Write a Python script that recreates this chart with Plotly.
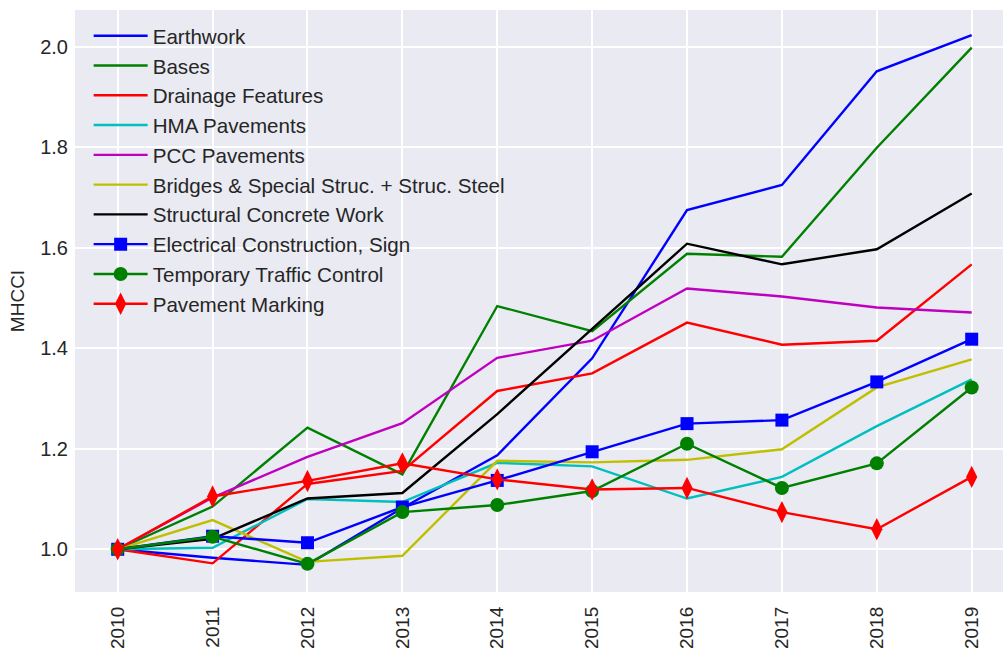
import plotly.graph_objects as go

years = [2010, 2011, 2012, 2013, 2014, 2015, 2016, 2017, 2018, 2019]

earthwork = [1.0, 0.983, 0.969, 1.082, 1.187, 1.380, 1.675, 1.725, 1.951, 2.023]
bases = [1.0, 1.085, 1.242, 1.149, 1.484, 1.434, 1.588, 1.582, 1.799, 1.998]
drainage = [1.0, 0.972, 1.130, 1.156, 1.315, 1.350, 1.451, 1.407, 1.415, 1.567]
hma = [1.0, 1.003, 1.100, 1.094, 1.172, 1.165, 1.101, 1.144, 1.245, 1.338]
pcc = [1.0, 1.103, 1.184, 1.251, 1.381, 1.415, 1.519, 1.503, 1.481, 1.471]
bridges = [1.0, 1.058, 0.975, 0.987, 1.176, 1.173, 1.178, 1.199, 1.322, 1.378]
structural = [1.0, 1.021, 1.101, 1.112, 1.269, 1.438, 1.608, 1.567, 1.597, 1.708]
electrical = [1.0, 1.026, 1.013, 1.084, 1.137, 1.194, 1.250, 1.257, 1.333, 1.418]
traffic = [1.0, 1.025, 0.971, 1.074, 1.088, 1.116, 1.210, 1.122, 1.171, 1.322]
marking = [1.0, 1.105, 1.136, 1.171, 1.139, 1.119, 1.122, 1.074, 1.040, 1.144]

y_ticks = [1.0, 1.2, 1.4, 1.6, 1.8, 2.0]

series = [
    ("Earthwork", earthwork, "#0000FF", None),
    ("Bases", bases, "#008000", None),
    ("Drainage Features", drainage, "#FF0000", None),
    ("HMA Pavements", hma, "#00BFBF", None),
    ("PCC Pavements", pcc, "#BF00BF", None),
    ("Bridges & Special Struc. + Struc. Steel", bridges, "#BFBF00", None),
    ("Structural Concrete Work", structural, "#000000", None),
    ("Electrical Construction, Sign", electrical, "#0000FF", ("square", 13)),
    ("Temporary Traffic Control", traffic, "#008000", ("circle", 14)),
    ("Pavement Marking", marking, "#FF0000", ("diamond-tall", 16)),
]

fig = go.Figure()
for name, vals, color, mk in series:
    if mk is None:
        fig.add_trace(go.Scatter(x=years, y=vals, name=name, mode="lines",
                                 line=dict(color=color, width=2.4)))
    else:
        fig.add_trace(go.Scatter(x=years, y=vals, name=name, mode="lines+markers",
                                 line=dict(color=color, width=2.4),
                                 marker=dict(symbol=mk[0], size=mk[1], color=color,
                                             line=dict(width=0))))

font_family = "Liberation Sans, Arial, sans-serif"
fig.update_layout(
    width=1003, height=652,
    margin=dict(l=75, r=0, t=10, b=60),
    paper_bgcolor="white",
    plot_bgcolor="#EAEAF2",
    font=dict(family=font_family, size=20, color="#262626"),
    showlegend=True,
    legend=dict(x=0.0147, y=0.99, xanchor="left", yanchor="top",
                bgcolor="rgba(0,0,0,0)", font=dict(size=20.6, color="#262626"),
                itemwidth=54),
)
fig.update_xaxes(range=[2009.55, 2019.33], tickvals=years,
                 ticktext=[str(y) for y in years], tickangle=-90,
                 showgrid=True, gridcolor="white", gridwidth=1.5,
                 zeroline=False, showline=False, ticks="", ticklabelstandoff=10,
                 tickfont=dict(size=19))
fig.update_yaxes(range=[0.915, 2.073], tickvals=y_ticks,
                 ticktext=["%.1f" % v for v in y_ticks],
                 showgrid=True, gridcolor="white", gridwidth=1.5,
                 zeroline=False, showline=False, ticks="", ticklabelstandoff=6,
                 tickfont=dict(size=20),
                 title=dict(text="MHCCI", standoff=10, font=dict(size=19)))

fig.write_html("out.html", config={"displayModeBar": False},
               post_script="document.body.style.margin='0';")
